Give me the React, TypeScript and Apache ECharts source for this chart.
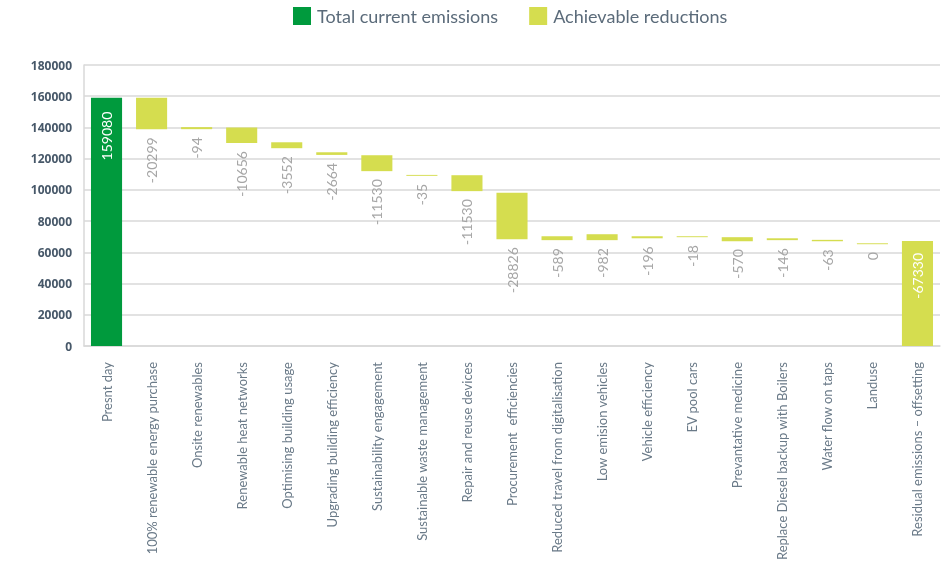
import React, { useEffect, useRef } from "react";
import * as echarts from "echarts";

const categories = [
  "Presnt day",
  "100% renewable energy purchase",
  "Onsite renewables",
  "Renewable heat networks",
  "Optimising building usage",
  "Upgrading building efficiency",
  "Sustainability engagement",
  "Sustainable waste management",
  "Repair and reuse devices",
  "Procurement  efficiencies",
  "Reduced travel from digitalisation",
  "Low emision vehicles",
  "Vehicle efficiency",
  "EV pool cars",
  "Prevantative medicine",
  "Replace Diesel backup with Boilers",
  "Water flow on taps",
  "Landuse",
  "Residual emissions \u2013 offsetting",
];

const presentDay = 159080;
const residualLabel = -67330;
const residualValue = 67330;

// label values of the reduction steps
const reductionLabels = [-20299, -94, -10656, -3552, -2664, -11530, -35, -11530, -28826, -589, -982, -196, -18, -570, -146, -63, 0];
// top and bottom of each floating reduction bar
const reductionTops = [159080, 140200, 140000, 130500, 124100, 122200, 109600, 109400, 98100, 70300, 71600, 70300, 70300, 69700, 69000, 68000, 65800];
const reductionBottoms = [138781, 138900, 130000, 126700, 122400, 112000, 109000, 99200, 68400, 67800, 67800, 69000, 69700, 67100, 67800, 67100, 65200];

const yTicks = { min: 0, max: 180000, interval: 20000 };

const GREEN = "#009a3d";
const YELLOW = "#d5dd4f";
const FONT = "Lato";

export default function App() {
  const ref = useRef<HTMLDivElement>(null);
  useEffect(() => {
    if (!ref.current) return;
    const chart = echarts.init(ref.current, undefined, { renderer: "svg" });
    const n = categories.length;
    const base: (number | string)[] = [];
    const green: any[] = [];
    const yellow: any[] = [];
    for (let i = 0; i < n; i++) {
      if (i === 0) {
        base.push(0);
        green.push({
          value: presentDay,
          label: {
            show: true,
            position: "insideTop",
            rotate: 90,
            align: "right",
            verticalAlign: "middle",
            distance: 14,
            color: "#ffffff",
            fontSize: 14,
            fontFamily: FONT,
            formatter: String(presentDay),
          },
        });
        yellow.push("-");
      } else if (i === n - 1) {
        base.push(0);
        green.push("-");
        yellow.push({
          value: residualValue,
          label: {
            show: true,
            position: "insideTop",
            rotate: 90,
            align: "right",
            verticalAlign: "middle",
            distance: 12,
            color: "#ffffff",
            fontSize: 14,
            fontFamily: FONT,
            formatter: String(residualLabel),
          },
        });
      } else {
        const k = i - 1;
        base.push(reductionBottoms[k]);
        green.push("-");
        yellow.push({
          value: reductionTops[k] - reductionBottoms[k],
          label: {
            show: true,
            position: "bottom",
            rotate: 90,
            align: "right",
            verticalAlign: "middle",
            distance: 8,
            color: "#a6a6a6",
            fontSize: 14,
            fontFamily: FONT,
            formatter: String(reductionLabels[k]),
          },
        });
      }
    }
    chart.setOption({
      animation: false,
      legend: {
        left: 288,
        top: 2,
        itemWidth: 18,
        itemHeight: 18,
        itemGap: 31,
        icon: "rect",
        textStyle: { fontFamily: FONT, fontSize: 18, color: "#5b6b7a", padding: [0, 0, 0, 1] },
        data: ["Total current emissions", "Achievable reductions"],
      },
      grid: { left: 84, right: 2, top: 65, bottom: 222, containLabel: false },
      xAxis: {
        type: "category",
        data: categories,
        axisLine: { show: true, lineStyle: { color: "#d9d9d9", width: 1.5 } },
        axisTick: { show: false },
        axisLabel: {
          interval: 0,
          rotate: 90,
          margin: 16,
          color: "#6a7a88",
          fontFamily: FONT,
          fontSize: 13,
        },
      },
      yAxis: {
        type: "value",
        min: yTicks.min,
        max: yTicks.max,
        interval: yTicks.interval,
        axisLine: { show: true, lineStyle: { color: "#d9d9d9", width: 1.5 } },
        axisTick: { show: false },
        splitLine: { lineStyle: { color: "#d9d9d9", width: 1.5 } },
        axisLabel: {
          margin: 12,
          color: "#475869",
          fontFamily: "Open Sans",
          fontWeight: "bold",
          fontSize: 12,
          formatter: (v: number) => String(v),
        },
      },
      series: [
        {
          name: "base",
          type: "bar",
          stack: "w",
          data: base,
          itemStyle: { color: "transparent" },
          emphasis: { disabled: true },
          silent: true,
          barCategoryGap: "31%",
        },
        {
          name: "Total current emissions",
          type: "bar",
          stack: "w",
          data: green,
          itemStyle: { color: GREEN },
          barCategoryGap: "31%",
        },
        {
          name: "Achievable reductions",
          type: "bar",
          stack: "w",
          data: yellow,
          itemStyle: { color: YELLOW },
          barCategoryGap: "31%",
        },
      ],
    });
    return () => chart.dispose();
  }, []);
  return (
    <div
      ref={ref}
      style={{ position: "fixed", left: 0, top: 0, width: 942, height: 568 }}
    />
  );
}
